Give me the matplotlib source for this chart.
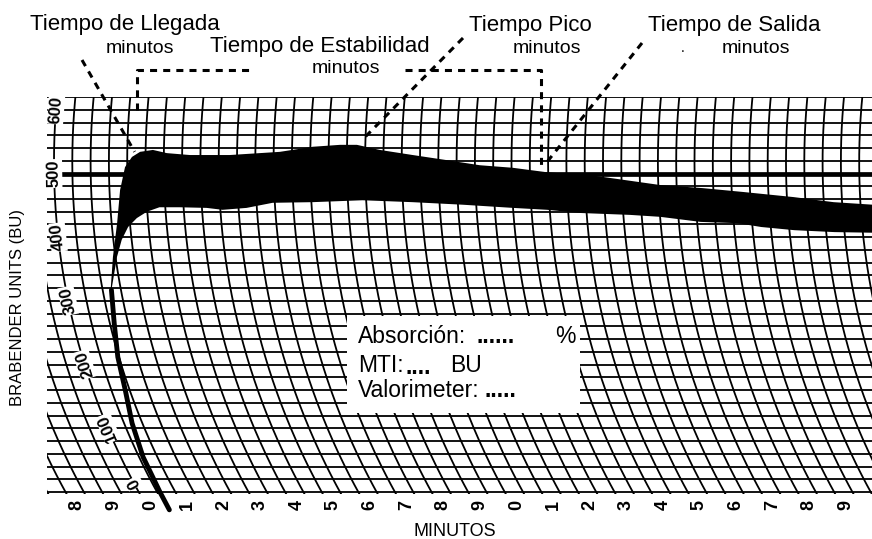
import numpy as np
import matplotlib.pyplot as plt
from matplotlib.patches import Rectangle

plt.rcParams['font.family'] = ['Liberation Sans', 'DejaVu Sans']

# curva del farinograma: tiempo (minutos) y consistencia (BU)
t_subida = [0.06, 0.08, 0.11, 0.22, 0.38, 0.47, 0.62, 0.74]
bu_subida = [-28, 0, 55, 108, 160, 212, 265, 317]

t_sup = [0.74, 0.93, 1.15, 1.29, 1.44, 1.63, 1.85, 2.2, 2.58, 3.21, 4.3, 5.67,
         6.57, 7.31, 7.77, 8.4, 9.3, 10.23, 11.13, 12.03, 12.96, 14.32, 16.04,
         17.22, 18.31, 19.68, 20.77, 21.84, 22.4]
bu_sup = [322, 369, 422, 474, 510, 526, 534, 537, 532, 529, 529, 534,
          542, 545, 545, 537, 529, 521, 513, 509, 502, 496, 482,
          477, 471, 463, 455, 451, 445]

t_inf = [0.74, 1.04, 1.23, 1.44, 1.70, 1.99, 2.34, 2.89, 3.63, 4.06, 4.72, 5.44,
         6.53, 7.9, 9.26, 10.63, 12.0, 12.93, 13.83, 15.19, 16.0, 17.1, 18.1,
         18.74, 19.64, 20.73, 21.8, 22.4]
bu_inf = [317, 369, 396, 416, 430, 440, 447, 447, 446, 443, 446, 454,
          455, 458, 455, 451, 446, 443, 438, 435, 432, 424, 422,
          416, 411, 408, 407, 406]

t_llegada = 1.7
t_pico = 7.9
t_salida = 12.9

bu_ticks = [0, 100, 200, 300, 400, 500, 600]
min_ticks = list(range(-2, 20))

# geometria del papel (en pixeles de la imagen)
W, H = 872, 539
PX_MIN = 36.6
PX_BU = 0.637
X0, Y0 = 157, 492
R_ARC = 685.0
BU_C = 518


def arc_off(bu):
    d = (BU_C - np.asarray(bu, float)) * PX_BU
    return R_ARC - np.sqrt(R_ARC**2 - d**2)


def to_x(t, bu):
    # el tiempo se lee sobre arcos: desplaza x segun la altura
    return np.asarray(t, float) + (arc_off(bu) - arc_off(0)) / PX_MIN


def px_x(x):
    return (x - X0) / PX_MIN


def px_y(y):
    return (Y0 - y) / PX_BU


def fig_xy(x, y):
    return x / W, 1 - y / H


fig = plt.figure(figsize=(W / 100, H / 100), dpi=100)
ax = fig.add_axes([47 / W, (H - 493.5) / H, (W - 47) / W, (493.5 - 96.5) / H])
ax.set_xlim(px_x(47), px_x(872))
ax.set_ylim(px_y(493.5), px_y(96.5))
ax.axis('off')

# cuadricula curva
bu_fine = np.linspace(-5, 625, 200)
for t in np.arange(-3.5, 23, 0.5):
    ax.plot(to_x(t, bu_fine), bu_fine, color='k', lw=1.3, zorder=1)
for b in range(0, 621, 20):
    ax.axhline(b, color='k', lw=3.4 if b == 500 else 1.3, zorder=1)

# banda de la curva
xs_top = to_x(t_sup, bu_sup)
xs_bot = to_x(t_inf, bu_inf)
ax.fill(np.r_[xs_top, xs_bot[::-1]], np.r_[bu_sup, bu_inf[::-1]],
        color='k', lw=0, zorder=3)
ax.plot(to_x(t_subida, bu_subida), bu_subida, color='k', lw=3.5,
        solid_capstyle='round', zorder=3, clip_on=False)

# recuadro blanco
ax.add_patch(Rectangle((px_x(347), px_y(413)), px_x(580) - px_x(347),
                       px_y(316) - px_y(413), facecolor='white',
                       edgecolor='none', zorder=4))

# etiquetas BU sobre el arco
for b in bu_ticks:
    bb = max(b, 14)
    d = (BU_C - bb) * PX_BU
    rot = 90 + np.degrees(np.arctan(d / np.sqrt(R_ARC**2 - d**2)))
    ax.text(float(to_x(-0.5, bb)), bb, str(b), rotation=rot, ha='center',
            va='center', fontsize=12, fontweight='bold',
            rotation_mode='anchor', zorder=5,
            bbox=dict(fc='white', ec='none', pad=0.5))

# minutos abajo
for m in min_ticks:
    ax.text(m - 0.18, px_y(505), str(m % 10), rotation=90, ha='center',
            va='center', fontsize=13, fontweight='bold', clip_on=False)

# lineas punteadas
kw = dict(color='k', lw=2.2, ls=(0, (2.3, 2.0)), clip_on=False, zorder=6)
ax.plot([px_x(82), float(to_x(t_llegada, 534))], [px_y(60), 534], **kw)
ax.plot([px_x(463), float(to_x(t_pico, 552))], [px_y(38), 552], **kw)
ax.plot([px_x(642), float(to_x(t_salida, 513))], [px_y(43), 513], **kw)
xl = float(to_x(t_llegada, 600))
xr = float(to_x(t_salida - 0.1, 508))
ax.plot([xl, xl, px_x(250)], [600, px_y(70), px_y(70)], **kw)
ax.plot([px_x(405), xr, xr], [px_y(70), px_y(70), 508], **kw)

# textos
def ftext(x, y, s, size, **k):
    fx, fy = fig_xy(x, y)
    fig.text(fx, fy, s, fontsize=size, ha='left', va='baseline', **k)

ftext(30, 30, 'Tiempo de Llegada', 16)
ftext(106, 53, 'minutos', 14)
ftext(210, 52, 'Tiempo de Estabilidad', 16)
ftext(312, 73, 'minutos', 14)
ftext(469, 31, 'Tiempo Pico', 16)
ftext(513, 53, 'minutos', 14)
ftext(648, 31, 'Tiempo de Salida', 16)
ftext(722, 53, 'minutos', 14)
ftext(681, 52, '.', 10)

ftext(358, 343, 'Absorción:', 16.5, zorder=7)
ftext(476, 343, '......', 16.5, fontweight='bold', zorder=7)
ftext(555, 343, '%', 16.5, zorder=7)
ftext(358, 372, 'MTI:', 16.5, zorder=7)
ftext(405, 374, '....', 16.5, fontweight='bold', zorder=7)
ftext(450, 372, 'BU', 16.5, zorder=7)
ftext(358, 397, 'Valorimeter:', 16.5, zorder=7)
ftext(484, 397, '.....', 16.5, fontweight='bold', zorder=7)

fx, fy = fig_xy(18, 308)
fig.text(fx, fy, 'BRABENDER UNITS (BU)', rotation=90, fontsize=12,
         ha='center', va='center')
fx, fy = fig_xy(455, 531)
fig.text(fx, fy, 'MINUTOS', fontsize=13, ha='center', va='center')

fig.savefig('out.png', dpi=100)
